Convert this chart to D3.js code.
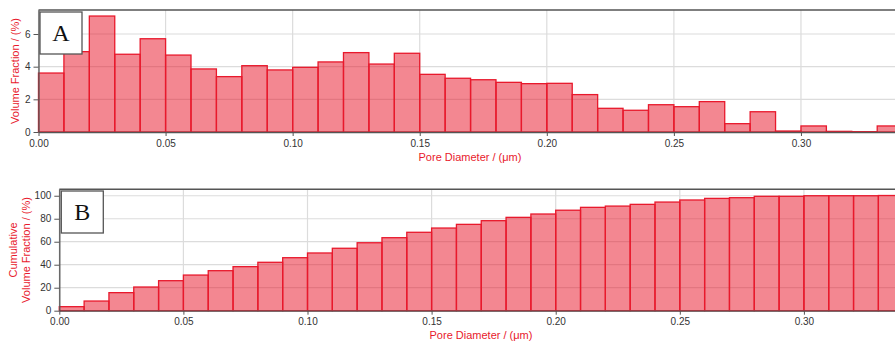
<!DOCTYPE html>
<html>
<head>
<meta charset="utf-8">
<script src="https://cdn.jsdelivr.net/npm/d3@7"></script>
<style>
  html, body { margin: 0; padding: 0; background: #fff; overflow: hidden; }
  svg { display: block; font-family: "Liberation Sans", Arial, sans-serif; }
</style>
</head>
<body>
<svg id="chart" width="895" height="341"></svg>
<script>
// ---- Data ----
const binStarts = [0.00,0.01,0.02,0.03,0.04,0.05,0.06,0.07,0.08,0.09,0.10,0.11,0.12,0.13,0.14,0.15,0.16,0.17,0.18,0.19,0.20,0.21,0.22,0.23,0.24,0.25,0.26,0.27,0.28,0.29,0.30,0.31,0.32,0.33];
const binWidth = 0.01;
const volumeFraction = [3.61,4.92,7.10,4.76,5.71,4.71,3.86,3.39,4.06,3.80,3.96,4.29,4.86,4.16,4.82,3.53,3.29,3.20,3.04,2.96,2.98,2.29,1.45,1.33,1.67,1.55,1.86,0.51,1.24,0.06,0.37,0.04,0.02,0.37];
const cumulativeFraction = [3.5,8.4,15.7,20.6,26.1,31.0,34.8,38.3,42.1,46.1,50.2,54.3,59.1,63.5,68.2,71.9,75.1,78.3,81.2,84.1,87.4,89.9,91.0,92.5,94.5,96.3,97.7,98.3,99.5,99.5,100.0,100.0,100.0,100.2];
const xTicks = [0.00,0.05,0.10,0.15,0.20,0.25,0.30];
const yTicksA = [0,2,4,6];
const yTicksB = [0,20,40,60,80,100];
const xTitle = "Pore Diameter / (\u03bcm)";
const yTitleA = ["Volume Fraction / (%)"];
const yTitleB = ["Cumulative", "Volume Fraction / (%)"];
const panelLabels = ["A", "B"];

// ---- Styles ----
const RED = "#e8192c";
const FILL = "rgba(232,25,44,0.52)";
const GRID = "#dcdcdc";
const AXIS = "#555";
const TEXT = "#333";

const svg = d3.select("#chart");

function panel(cfg) {
  const g = svg.append("g");
  const x = d3.scaleLinear().domain([0, cfg.xMax]).range([cfg.left, 895]);
  const y = d3.scaleLinear().domain([0, cfg.yMax]).range([cfg.bottom, cfg.top]);

  // gridlines
  g.append("g").selectAll("line.v").data(xTicks).join("line")
    .attr("x1", d => x(d)).attr("x2", d => x(d))
    .attr("y1", cfg.top).attr("y2", cfg.bottom)
    .attr("stroke", GRID).attr("stroke-width", 1.2);
  g.append("g").selectAll("line.h").data(cfg.yTicks).join("line")
    .attr("x1", cfg.left).attr("x2", 895)
    .attr("y1", d => y(d)).attr("y2", d => y(d))
    .attr("stroke", GRID).attr("stroke-width", 1.2);

  // bars
  g.append("g").selectAll("rect").data(cfg.values).join("rect")
    .attr("x", (d, i) => x(binStarts[i]))
    .attr("width", (d, i) => x(binStarts[i] + binWidth) - x(binStarts[i]))
    .attr("y", d => y(d))
    .attr("height", d => y(0) - y(d))
    .attr("fill", FILL)
    .attr("stroke", RED)
    .attr("stroke-width", 1.3);

  // top frame
  g.append("line").attr("x1", cfg.left).attr("x2", 895)
    .attr("y1", cfg.top).attr("y2", cfg.top)
    .attr("stroke", AXIS).attr("stroke-width", 1.5);

  // x axis
  const xa = g.append("g").attr("transform", `translate(0,${cfg.bottom})`)
    .call(d3.axisBottom(x).tickValues(xTicks).tickFormat(d3.format(".2f")).tickSize(4).tickSizeOuter(0));
  xa.select(".domain").attr("stroke", AXIS).attr("stroke-width", 1.3);
  xa.selectAll(".tick line").attr("stroke", AXIS);
  xa.selectAll("text").attr("fill", TEXT).attr("font-size", 10).attr("dy", "0.85em").attr("y", 6);

  // y axis
  const ya = g.append("g").attr("transform", `translate(${cfg.left},0)`)
    .call(d3.axisLeft(y).tickValues(cfg.yTicks).tickSize(5).tickSizeOuter(0).tickPadding(3));
  ya.select(".domain").attr("stroke", AXIS).attr("stroke-width", 1.3);
  ya.selectAll(".tick line").attr("stroke", AXIS);
  ya.selectAll("text").attr("fill", TEXT).attr("font-size", 10);

  // x title
  g.append("text").attr("x", cfg.xTitleX).attr("y", cfg.xTitleY)
    .attr("text-anchor", "middle").attr("fill", RED).attr("font-size", 11)
    .text(xTitle);

  // y title
  const cy = (cfg.top + cfg.bottom) / 2;
  const yt = g.append("text")
    .attr("transform", `translate(${cfg.yTitleX},${cy}) rotate(-90)`)
    .attr("text-anchor", "middle").attr("fill", RED).attr("font-size", 11);
  cfg.yTitle.forEach((t, i) => {
    yt.append("tspan").attr("x", 0).attr("dy", i === 0 ? 0 : 13).text(t);
  });

  // panel label box
  g.append("rect").attr("x", cfg.box[0]).attr("y", cfg.box[1])
    .attr("width", cfg.box[2]).attr("height", cfg.box[3])
    .attr("fill", "#fff").attr("stroke", "#555").attr("stroke-width", 1.3);
  g.append("text")
    .attr("x", cfg.box[0] + cfg.box[2] / 2).attr("y", cfg.box[1] + cfg.box[3] / 2 + 8)
    .attr("text-anchor", "middle").attr("font-family", "'Liberation Serif', 'DejaVu Serif', serif")
    .attr("font-size", 24).attr("fill", "#111")
    .text(cfg.label);
}

panel({
  values: volumeFraction, xMax: 0.337, yMax: 7.47,
  left: 38.5, top: 10, bottom: 132, yTicks: yTicksA,
  xTitleX: 470, xTitleY: 160.5, yTitleX: 19, yTitle: yTitleA,
  box: [40, 12, 42, 42], label: panelLabels[0]
});

panel({
  values: cumulativeFraction, xMax: 0.3367, yMax: 105.6,
  left: 59.3, top: 189.3, bottom: 310.7, yTicks: yTicksB,
  xTitleX: 481, xTitleY: 338.5, yTitleX: 17, yTitle: yTitleB,
  box: [61.3, 191, 42, 42], label: panelLabels[1]
});
</script>
</body>
</html>
